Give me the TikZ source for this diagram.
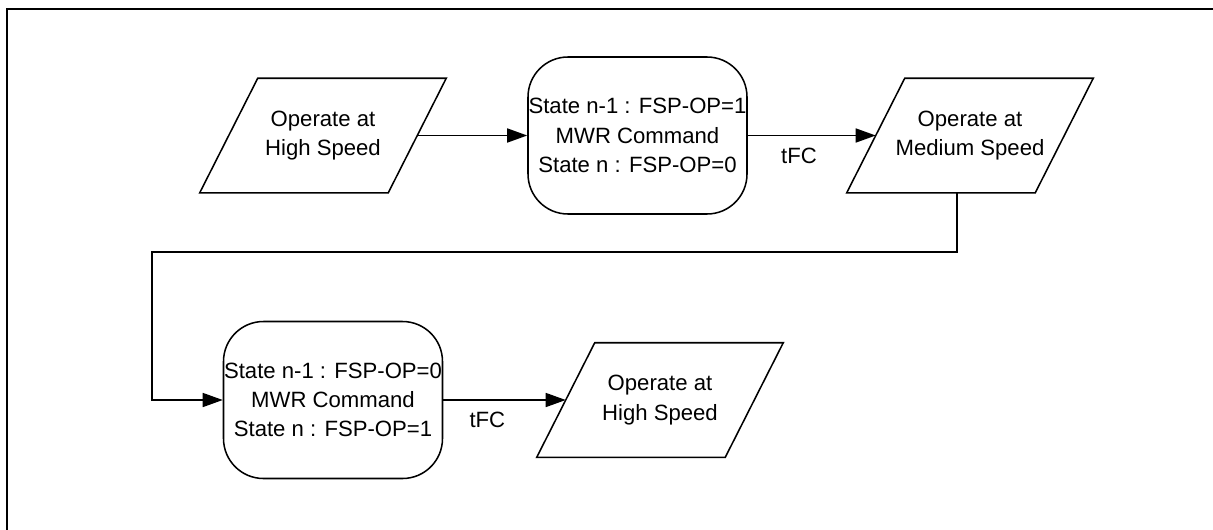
\documentclass[tikz,border=0pt]{standalone}
\usepackage{fontspec}
\setmainfont{Liberation Sans}
\usetikzlibrary{arrows.meta}
\tikzset{
  txt/.style={font=\fontsize{16.6pt}{22pt}\selectfont, align=center, inner sep=0pt},
  statebox/.style={txt, draw, line width=1.15pt, rounded corners=30pt,
    minimum width=164.25pt, minimum height=117.75pt},
  parabox/.style={txt, minimum width=141pt, minimum height=85.5pt},
  pline/.style={draw, line width=1.15pt, line join=miter},
  arr/.style={line width=1.15pt, -{Triangle[length=15pt,width=10.5pt]}},
  lbl/.style={txt, yshift=-15pt},
  frame/.style={line width=1.6pt}
}
\newcommand{\drawpara}[1]{%
  \draw[pline] ([xshift=21.75pt]#1.north west) -- ([xshift=21.75pt]#1.north east)
    -- ([xshift=-21.75pt]#1.south east) -- ([xshift=-21.75pt]#1.south west) -- cycle;}
\begin{document}
\begin{tikzpicture}[x=0.75pt,y=-0.75pt]
\useasboundingbox (0,0) rectangle (1213,529);
\clip (0,0) rectangle (1213,529);
\draw[frame] (7,540) -- (7,9) -- (1225,9);

\node[parabox] (p1) at (323,135.5) {Operate at\\High Speed};
\node[statebox] (b1) at (637.5,135.5) {State n-1 : FSP-OP=1\\MWR Command\\State n : FSP-OP=0};
\node[parabox] (p2) at (970,135.5) {Operate at\\Medium Speed};
\node[statebox] (b2) at (333,400) {State n-1 : FSP-OP=0\\MWR Command\\State n : FSP-OP=1};
\node[parabox] (p3) at (660,400) {Operate at\\High Speed};
\drawpara{p1}
\drawpara{p2}
\drawpara{p3}

\coordinate (k0) at ([xshift=-9.75pt]p2.south);
\coordinate (k1) at (152,252);

\draw[arr] (p1.east) -- (b1.west);
\draw[arr] (b1.east) -- node[lbl, pos=0.40] (t1) {tFC} (p2.west);
\draw[arr] (k0) |- (k1) |- (b2.west);
\draw[arr] (b2.east) -- node[lbl, pos=0.36] (t2) {tFC} (p3.west);
\end{tikzpicture}
\end{document}
